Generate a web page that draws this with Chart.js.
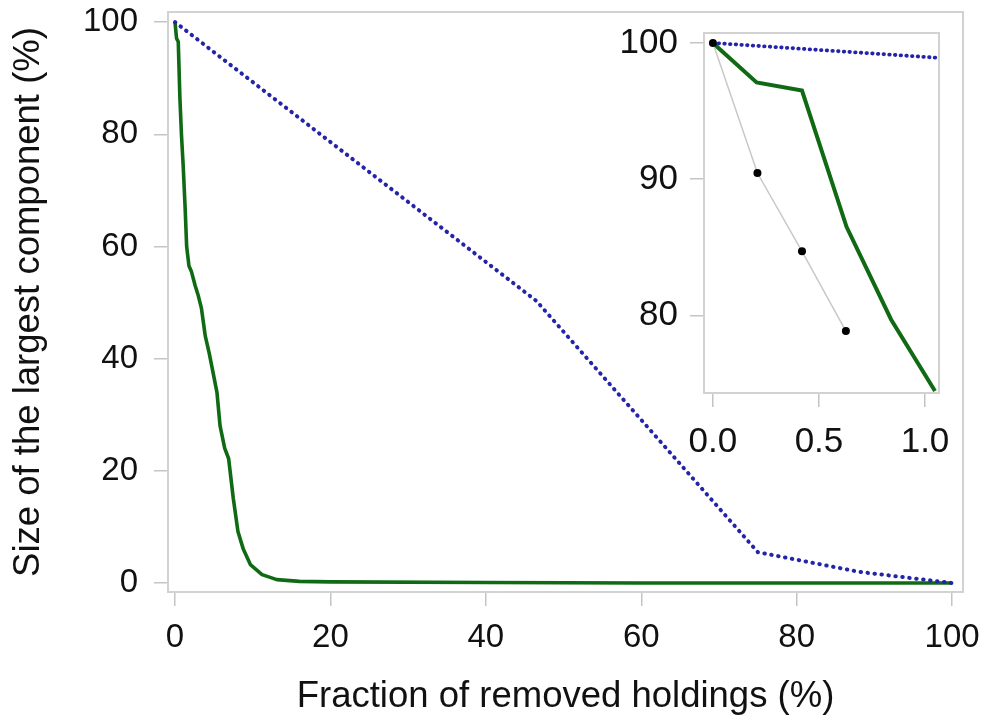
<!DOCTYPE html>
<html><head><meta charset="utf-8">
<script src="https://cdn.jsdelivr.net/npm/chart.js@4.4.1/dist/chart.umd.min.js"></script>
<style>
html,body{margin:0;padding:0;background:#fff;}
#wrap{position:relative;width:982px;height:720px;overflow:hidden;}
#main{position:absolute;left:0;top:0;}
#inset{position:absolute;left:600px;top:20px;}
</style></head><body>
<div id="wrap"><canvas id="main" width="982" height="720"></canvas><canvas id="inset" width="370" height="460"></canvas></div>
<script>
// ---- data ----
const mainXTicks = [0, 20, 40, 60, 80, 100];
const mainYTicks = [0, 20, 40, 60, 80, 100];
const insetXTicks = [0, 0.5, 1.0];
const insetYTicks = [80, 90, 100];

const greenX = [0, 0.2, 0.42, 0.63, 0.84, 1.05, 1.3, 1.5, 1.8, 2.1, 2.6, 3.0, 3.4, 3.9, 4.4, 4.9, 5.4, 5.8, 6.4, 6.9, 7.5, 8.1, 8.8, 9.7, 11.2, 13.1, 16, 20, 40, 60, 80, 100];
const greenY = [100, 97.1, 96.5, 86.5, 79.7, 74.5, 67, 60, 56.5, 55.6, 53, 51.2, 49, 44, 41, 37.5, 34, 28, 24, 22.2, 15.1, 9.2, 6, 3.3, 1.5, 0.6, 0.3, 0.2, 0.1, 0, 0, 0];
const blueX = [0, 46.5, 75, 88, 100];
const blueY = [100, 50.3, 5.5, 2, 0];

const insetGreenX = [0, 0.206, 0.42, 0.63, 0.84, 1.047];
const insetGreenY = [100, 97.1, 96.5, 86.5, 79.7, 74.45];
const insetBlueX = [0, 1.05];
const insetBlueY = [100, 98.92];
const insetBlackX = [0, 0.21, 0.42, 0.627];
const insetBlackY = [100, 90.45, 84.7, 78.85];

const xTitle = 'Fraction of removed holdings (%)';
const yTitle = 'Size of the largest component (%)';

// ---- helpers ----
const pts = (xs, ys) => xs.map((x, i) => ({x: x, y: ys[i]}));
const FONT = "'Liberation Sans', Arial, Helvetica, sans-serif";
const GREEN = '#106a14';
const BLUE = '#2424aa';
const BOX = '#d2d2d2';
const TICKC = '#c4c4c4';

const boxPlugin = {
  id: 'box',
  afterDatasetsDraw(chart) {
    const a = chart.chartArea, c = chart.ctx;
    c.save();
    c.strokeStyle = BOX;
    c.lineWidth = 2;
    c.strokeRect(a.left, a.top, a.right - a.left, a.bottom - a.top);
    c.restore();
  }
};

function fixTicks(arr) {
  return function(scale) { scale.ticks = arr.map(v => ({value: v})); };
}
function noPad(s) { s.paddingTop = 0; s.paddingBottom = 0; s.paddingLeft = 0; s.paddingRight = 0; }

// ---- main chart ----
new Chart(document.getElementById('main'), {
  type: 'scatter',
  data: {
    datasets: [
      {data: pts(blueX, blueY), showLine: true, borderColor: BLUE, borderWidth: 4,
       borderDash: [0.5, 6.5], borderCapStyle: 'round', pointRadius: 0, fill: false},
      {data: pts(greenX, greenY), showLine: true, borderColor: GREEN, borderWidth: 3.6,
       borderJoinStyle: 'round', pointRadius: 0, fill: false}
    ]
  },
  options: {
    responsive: false, animation: false,
    layout: {padding: {top: 12, right: 19, left: 0, bottom: 0}},
    plugins: {legend: {display: false}, tooltip: {enabled: false}},
    scales: {
      x: {
        type: 'linear', min: -0.9, max: 101.4,
        afterBuildTicks: fixTicks(mainXTicks),
        afterFit(s) { s.height = 128; noPad(s); },
        border: {display: false},
        grid: {drawOnChartArea: false, drawTicks: true, tickLength: 14, color: TICKC, lineWidth: 1.5},
        ticks: {color: '#111', font: {family: FONT, size: 33}, padding: 12, maxRotation: 0},
        title: {display: true, text: xTitle, color: '#111', font: {family: FONT, size: 36.5}, padding: {top: 0, bottom: 1}}
      },
      y: {
        type: 'linear', min: -1.6, max: 101.8,
        afterBuildTicks: fixTicks(mainYTicks),
        afterFit(s) { s.width = 168; noPad(s); },
        border: {display: false},
        grid: {drawOnChartArea: false, drawTicks: true, tickLength: 14, color: TICKC, lineWidth: 1.5},
        ticks: {color: '#111', font: {family: FONT, size: 33}, padding: 16},
        title: {display: true, text: yTitle, color: '#111', font: {family: FONT, size: 36.5}, padding: {top: 7, bottom: 0}}
      }
    }
  },
  plugins: [boxPlugin]
});

// ---- inset chart ----
new Chart(document.getElementById('inset'), {
  type: 'scatter',
  data: {
    datasets: [
      {data: pts(insetBlackX, insetBlackY), showLine: true, borderColor: '#c8c8c8', borderWidth: 1.5,
       pointRadius: 4, pointBackgroundColor: '#000', pointBorderColor: '#000', pointBorderWidth: 0, fill: false},
      {data: pts(insetBlueX, insetBlueY), showLine: true, borderColor: BLUE, borderWidth: 3.8,
       borderDash: [0.5, 5.2], borderCapStyle: 'round', pointRadius: 0, fill: false},
      {data: pts(insetGreenX, insetGreenY), showLine: true, borderColor: GREEN, borderWidth: 4,
       pointRadius: 0, fill: false}
    ]
  },
  options: {
    responsive: false, animation: false,
    layout: {padding: {top: 13, right: 31, left: 0, bottom: 0}},
    plugins: {legend: {display: false}, tooltip: {enabled: false}},
    scales: {
      x: {
        type: 'linear', min: -0.042, max: 1.066,
        afterBuildTicks: fixTicks(insetXTicks),
        afterFit(s) { s.height = 87; noPad(s); },
        border: {display: false},
        grid: {drawOnChartArea: false, drawTicks: true, tickLength: 14, color: TICKC, lineWidth: 1.5},
        ticks: {color: '#111', font: {family: FONT, size: 35}, padding: 14, maxRotation: 0,
                callback: v => Number(v).toFixed(1)}
      },
      y: {
        type: 'linear', min: 74.3, max: 100.73,
        afterBuildTicks: fixTicks(insetYTicks),
        afterFit(s) { s.width = 104; noPad(s); },
        border: {display: false},
        grid: {drawOnChartArea: false, drawTicks: true, tickLength: 14, color: TICKC, lineWidth: 1.5},
        ticks: {color: '#111', font: {family: FONT, size: 35}, padding: 12}
      }
    }
  },
  plugins: [boxPlugin]
});
</script>
</body></html>
